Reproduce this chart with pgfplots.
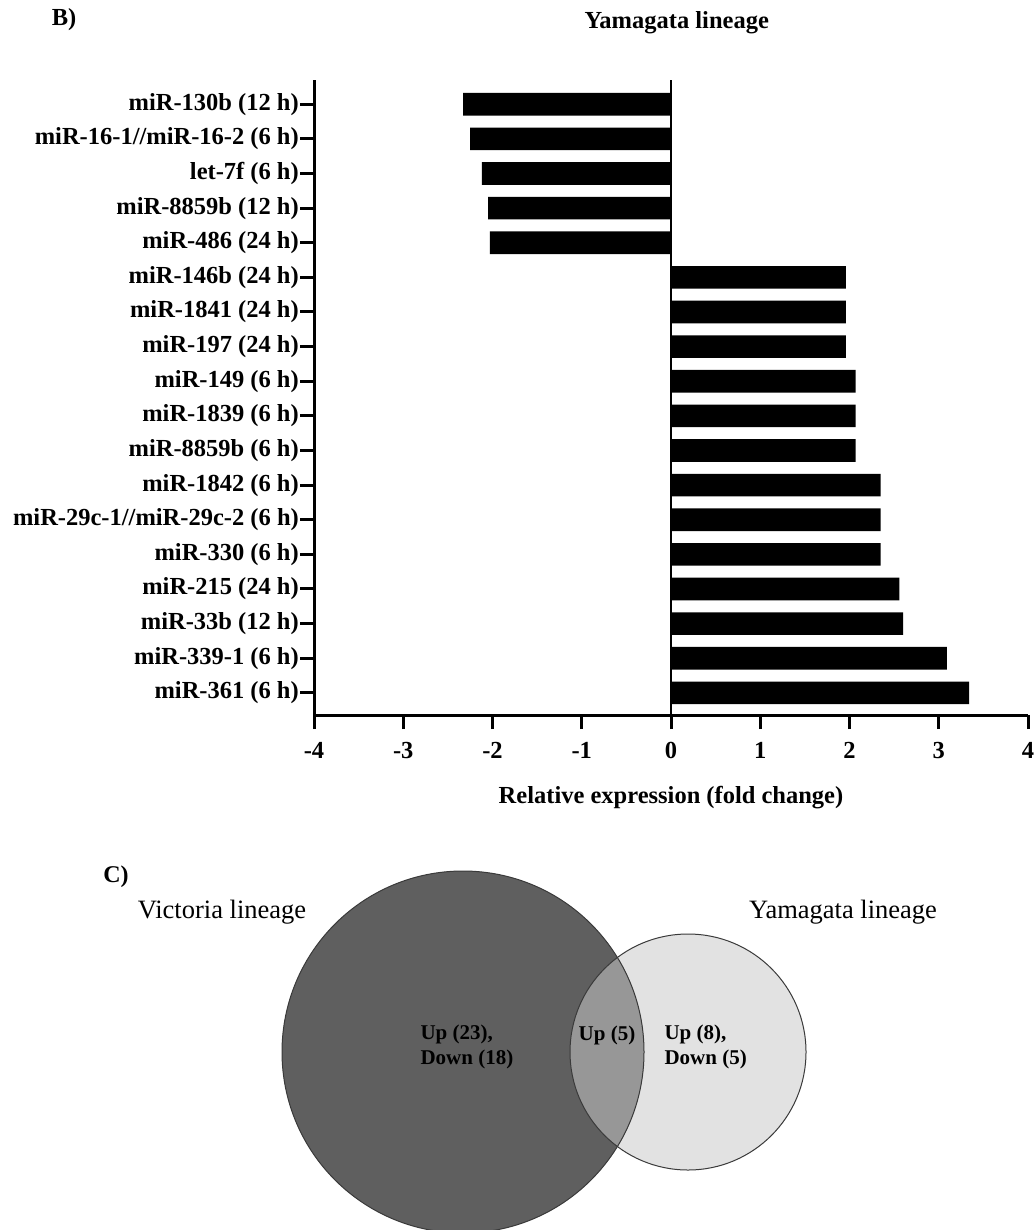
\documentclass[border=0pt]{standalone}
\usepackage{fontspec}
\setmainfont{Liberation Serif}
\usepackage{pgfplots}
\pgfplotsset{compat=1.18}
\definecolor{venndark}{HTML}{5F5F5F}
\definecolor{vennlight}{HTML}{E2E2E2}
\definecolor{vennmid}{HTML}{979797}
\definecolor{vennedge}{HTML}{3A3A3A}
\newcommand{\lab}{\fontsize{24.5}{28}\selectfont\bfseries}
\begin{document}
\begin{tikzpicture}
\useasboundingbox (0pt,0pt) rectangle (1035pt,-1230pt);
% ---------- B) bar chart ----------
\begin{axis}[
  at={(314pt,-715pt)}, anchor=south west,
  scale only axis, width=714pt, height=635pt,
  xmin=-4, xmax=4, ymin=-0.70, ymax=17.64, y dir=reverse,
  axis x line*=bottom, axis y line*=left,
  axis line style={line width=3pt, -},
  xtick={-4,-3,-2,-1,0,1,2,3,4},
  xticklabels={-4,-3,-2,-1,0,1,2,3,4},
  ytick={0,...,17},
  yticklabels={miR-130b (12 h),miR-16-1//miR-16-2 (6 h),let-7f (6 h),miR-8859b (12 h),miR-486 (24 h),miR-146b (24 h),miR-1841 (24 h),miR-197 (24 h),miR-149 (6 h),miR-1839 (6 h),miR-8859b (6 h),miR-1842 (6 h),miR-29c-1//miR-29c-2 (6 h),miR-330 (6 h),miR-215 (24 h),miR-33b (12 h),miR-339-1 (6 h),miR-361 (6 h)},
  tick align=outside, major tick length=14pt,
  tick style={line width=3pt, black},
  ticklabel style={font=\lab},
  yticklabel style={inner sep=1pt},
  xticklabel style={yshift=-10pt},
  xlabel={Relative expression (fold change)},
  xlabel style={font=\lab, at={(axis description cs:0.5,-0.1295)}, anchor=center},
  title={Yamagata lineage},
  title style={font=\lab, at={(axis description cs:0.508,1.0819)}, anchor=base, yshift=0pt},
  every axis title shift=0pt,
  clip=false,
]
\addplot[xbar, bar width=22.7pt, fill=black, draw=none] coordinates {
  (-2.33,0) (-2.25,1) (-2.12,2) (-2.05,3) (-2.03,4)
  (1.96,5) (1.96,6) (1.96,7) (2.07,8) (2.07,9) (2.07,10)
  (2.35,11) (2.35,12) (2.35,13) (2.56,14) (2.60,15) (3.09,16) (3.34,17)
};
\addplot[line width=2pt, black] coordinates {(0,-0.70) (0,17.64)};
\end{axis}
\node[font=\lab] at (64pt,-20pt) {B)};
% ---------- C) Venn diagram ----------
\begin{axis}[
  at={(0pt,-1230pt)}, anchor=south west,
  scale only axis, width=1035pt, height=370pt,
  xmin=0, xmax=1035, ymin=-1230, ymax=-860,
  hide axis, clip=false,
]
\fill[vennlight] (axis cs:688,-1052) circle[radius=118];
\fill[venndark] (axis cs:463,-1052) circle[radius=181];
\begin{scope}
\clip (axis cs:688,-1052) circle[radius=118];
\fill[vennmid] (axis cs:463,-1052) circle[radius=181];
\end{scope}
\draw[vennedge, line width=1pt] (axis cs:688,-1052) circle[radius=118];
\draw[vennedge, line width=1pt] (axis cs:463,-1052) circle[radius=181];
\end{axis}
\node[font=\fontsize{24}{28}\selectfont\bfseries] at (116pt,-877pt) {C)};
\node[font=\fontsize{26.5}{30}\selectfont] at (222pt,-912pt) {Victoria lineage};
\node[font=\fontsize{26.5}{30}\selectfont] at (843pt,-912pt) {Yamagata lineage};
\node[font=\fontsize{21}{25}\selectfont\bfseries, align=left, anchor=west] at (417pt,-1047pt) {Up (23),\\Down (18)};
\node[font=\fontsize{21}{25}\selectfont\bfseries] at (607pt,-1035pt) {Up (5)};
\node[font=\fontsize{21}{25}\selectfont\bfseries, align=left, anchor=west] at (661pt,-1047pt) {Up (8),\\Down (5)};
\end{tikzpicture}
\end{document}
